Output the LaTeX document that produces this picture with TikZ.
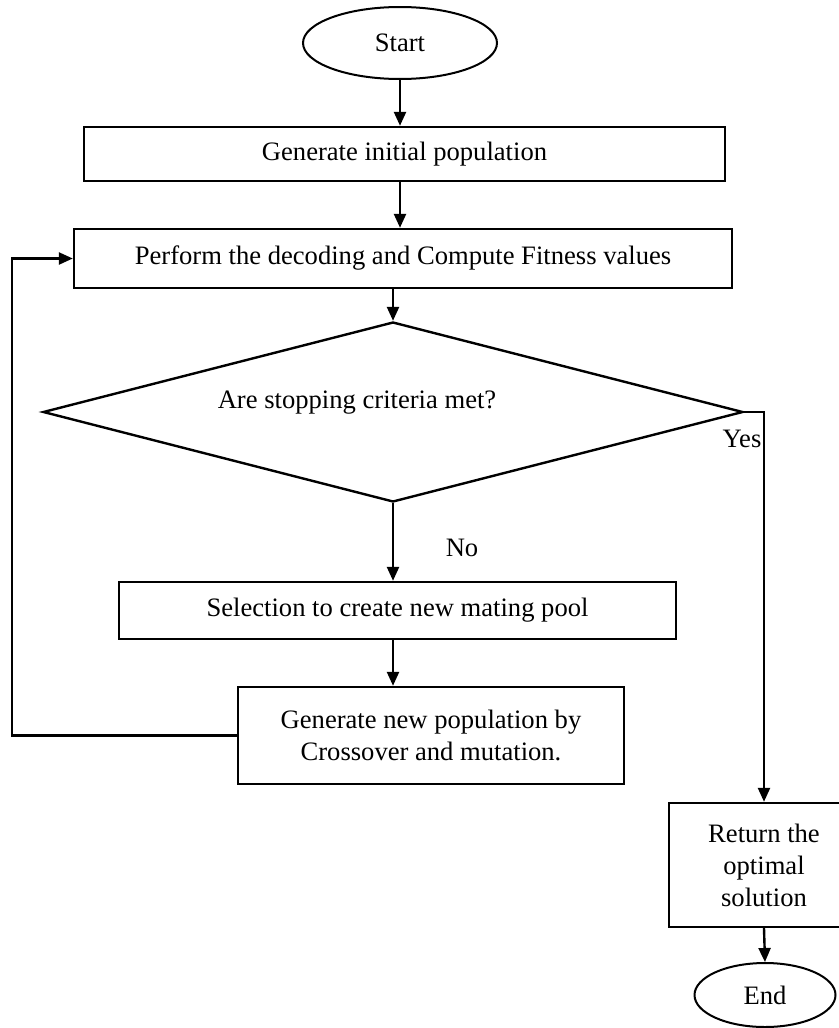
\documentclass[tikz,border=0pt]{standalone}
\usepackage{fontspec}
\setmainfont{Liberation Serif}
\usetikzlibrary{shapes.geometric,arrows.meta}

\begin{document}
\begin{tikzpicture}[x=0.5pt,y=-0.5pt,
    every node/.style={font=\fontsize{13.3pt}{16pt}\selectfont},
    term/.style={draw,ellipse,line width=1pt,inner sep=0pt},
    proc/.style={draw,rectangle,line width=1.2pt,align=center,inner sep=0pt},
    decision/.style={draw,diamond,line width=1.2pt,inner sep=0pt},
    arr/.style={line width=1.2pt,-{Triangle[length=7pt,width=6pt]}}]
  \useasboundingbox (0,0) rectangle (839,1028);
  % main column
  \node[term,minimum width=97pt,minimum height=36pt] (start) at (400,43) {Start};
  \node[proc,minimum width=320.5pt,minimum height=27pt] (init) at (404.5,154) {Generate initial population};
  \node[proc,minimum width=329pt,minimum height=29.5pt] (eval) at (403,258.5) {Perform the decoding and Compute Fitness values};
  \node[decision,minimum width=350pt,minimum height=90pt] (stop) at (393,412) {};
  \node (stoptxt) at (357,403) {Are stopping criteria met?};
  \node[proc,minimum width=278.5pt,minimum height=28.5pt] (select) at (397.5,610.5) {Selection to create new mating pool};
  \node[proc,minimum width=193pt,minimum height=48.5pt] (newpop) at (431,735.5) {Generate new population by\\Crossover and mutation.};
  % exit branch
  \node[proc,minimum width=95pt,minimum height=62pt] (ret) at (764,865) {Return the\\optimal\\solution};
  \node[term,minimum width=70.5pt,minimum height=32pt] (finish) at (765,995) {End};
  \node (yes) at (742,439) {Yes};
  \node (no) at (462,548) {No};
  \coordinate (loop) at (12,735.5);
  % connectors
  \draw[arr] (start.south) -- (start.south |- init.north);
  \draw[arr] (start |- init.south) -- (start |- eval.north);
  \draw[arr] (stop.north |- eval.south) -- (stop.north);
  \draw[arr] (stop.south) -- (stop.south |- select.north);
  \draw[arr] (stop |- select.south) -- (stop |- newpop.north);
  \draw[arr] (newpop.west) -- (loop) |- (eval.west);
  \draw[arr] (stop.east) -| (ret.north);
  \draw[arr] (ret.south) -- (finish.north);
\end{tikzpicture}
\end{document}
